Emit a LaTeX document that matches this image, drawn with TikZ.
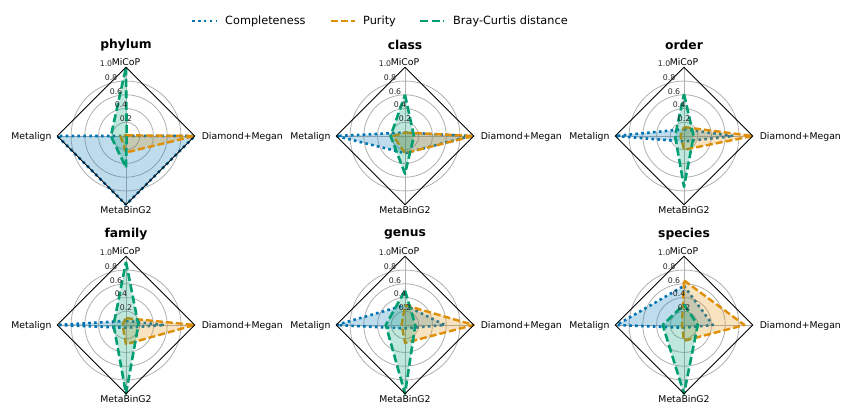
\documentclass[tikz,border=0pt]{standalone}
\usepackage{fontspec}
\setmainfont{DejaVu Sans}
\definecolor{cblue}{HTML}{0173B2}
\definecolor{corange}{HTML}{DE8F05}
\definecolor{cgreen}{HTML}{029E73}
\definecolor{cgrid}{HTML}{B0B0B0}
\newcommand{\R}{68.7}
\tikzset{
  gridline/.style={draw=cgrid, line width=0.8pt},
  framebox/.style={draw=black, line width=0.9pt, line join=miter},
  complstyle/.style={draw=cblue, line width=2.6pt, dash pattern=on 2.6pt off 3.3pt, fill=cblue, fill opacity=0.25, line join=round},
  puritystyle/.style={draw=corange, line width=2.4pt, dash pattern=on 7pt off 3pt, fill=corange, fill opacity=0.25, line join=round},
  bcstyle/.style={draw=cgreen, line width=2.6pt, dash pattern=on 8pt off 3.5pt, fill=cgreen, fill opacity=0.25, line join=round},
  axlab/.style={font=\fontsize{9.3}{10}\selectfont, inner sep=0pt},
  ticklab/.style={font=\fontsize{7.8}{8}\selectfont, inner sep=0pt, text=black!85},
  titlelab/.style={font=\fontsize{12.3}{14}\selectfont\bfseries, inner sep=0pt},
  leglab/.style={font=\fontsize{11.3}{13}\selectfont, inner sep=0pt, anchor=west},
}
% #1 style, #2 cx, #3 cy, #4 top (MiCoP), #5 right (Diamond+Megan), #6 bottom (MetaBinG2), #7 left (Metalign)
\newcommand{\series}[7]{%
  \path[#1] (#2,{#3-\R*#4}) -- ({#2+\R*#5},#3) -- (#2,{#3+\R*#6}) -- ({#2-\R*#7},#3) -- cycle;}
% #1 cx, #2 cy, #3 title, #4 name prefix
\newcommand{\chartframe}[4]{%
  \foreach \rr in {0.2,0.4,0.6,0.8} {\draw[gridline] (#1,#2) circle[radius={\rr*\R}];}
  \coordinate (#4c) at (#1,#2);
  \coordinate (#4t) at (#1,{#2-\R});
  \coordinate (#4r) at ({#1+\R},#2);
  \coordinate (#4b) at (#1,{#2+\R});
  \coordinate (#4l) at ({#1-\R},#2);
  \draw[gridline] (#4c) -- (#4t) (#4c) -- (#4r) (#4c) -- (#4b) (#4c) -- (#4l);
  \node[titlelab] (#4title) at (#1,{#2-91}) {#3};
  \node[axlab, anchor=base] (#4mi) at (#1,{#2-70.5}) {MiCoP};
  \node[axlab, anchor=base] (#4mb) at (#1,{#2+77.5}) {MetaBinG2};
  \node[axlab, anchor=base east] (#4ml) at ({#1-74.3},{#2+3.4}) {Metalign};
  \node[axlab, anchor=base west] (#4dm) at ({#1+75.6},{#2+3.4}) {Diamond+Megan};
}
\newcommand{\chartfront}[3]{%
  \draw[framebox] (#3t) -- (#3r) -- (#3b) -- (#3l) -- cycle;
  \foreach \rr/\lab in {0.2/0.2,0.4/0.4,0.6/0.6,0.8/0.8,1.0/1.0}
    {\node[ticklab] at ({#1+5-25*\rr},{#2-68*\rr-4}) {\lab};}
}
\begin{document}
\begin{tikzpicture}[x=1pt,y=-1pt]
\useasboundingbox (0,0) rectangle (853,415);
% legend
\coordinate (lga) at (192,21); \coordinate (lgb) at (217,21);
\draw[cblue, line width=2.6pt, dash pattern=on 2.6pt off 3.3pt] (lga) -- (lgb);
\node[leglab] (lg1) at (225,21) {Completeness};
\coordinate (lgc) at (331,21); \coordinate (lgd) at (355,21);
\draw[corange, line width=2.4pt, dash pattern=on 7pt off 3pt] (lgc) -- (lgd);
\node[leglab] (lg2) at (363,21) {Purity};
\coordinate (lge) at (420,21); \coordinate (lgf) at (444,21);
\draw[cgreen, line width=2.6pt, dash pattern=on 8pt off 3.5pt] (lge) -- (lgf);
\node[leglab] (lg3) at (453,21) {Bray-Curtis distance};

% phylum
\chartframe{126}{136}{phylum}{p}
\series{complstyle}{126}{136}{0}{1}{1}{1}
\series{puritystyle}{126}{136}{0.01}{1}{0.24}{0.08}
\series{bcstyle}{126}{136}{1}{0.01}{0.46}{0.22}
\chartfront{126}{136}{p}

% class
\chartframe{405}{136}{class}{c}
\series{complstyle}{405}{136}{0.05}{0.95}{0.25}{1}
\series{puritystyle}{405}{136}{0.05}{1}{0.25}{0.17}
\series{bcstyle}{405}{136}{0.6}{0.13}{0.55}{0.21}
\chartfront{405}{136}{c}

% order
\chartframe{684}{136}{order}{o}
\series{complstyle}{684}{136}{0.1}{0.72}{0.08}{1}
\series{puritystyle}{684}{136}{0.13}{1}{0.2}{0.05}
\series{bcstyle}{684}{136}{0.61}{0.14}{0.74}{0.13}
\chartfront{684}{136}{o}

% family
\chartframe{126}{325}{family}{f}
\series{complstyle}{126}{325}{0.06}{0.56}{0.04}{1}
\series{puritystyle}{126}{325}{0.1}{1}{0.28}{0.05}
\series{bcstyle}{126}{325}{0.92}{0.18}{1}{0.18}
\chartfront{126}{325}{f}

% genus
\chartframe{405}{325}{genus}{g}
\series{complstyle}{405}{325}{0.29}{0.58}{0.05}{1}
\series{puritystyle}{405}{325}{0.29}{1}{0.26}{0.05}
\series{bcstyle}{405}{325}{0.5}{0.15}{1}{0.28}
\chartfront{405}{325}{g}

% species
\chartframe{684}{325}{species}{s}
\series{complstyle}{684}{325}{0.57}{0.42}{0.04}{0.98}
\series{puritystyle}{684}{325}{0.65}{0.88}{0.23}{0.03}
\series{bcstyle}{684}{325}{0.3}{0.2}{1}{0.31}
\chartfront{684}{325}{s}
\end{tikzpicture}
\end{document}
